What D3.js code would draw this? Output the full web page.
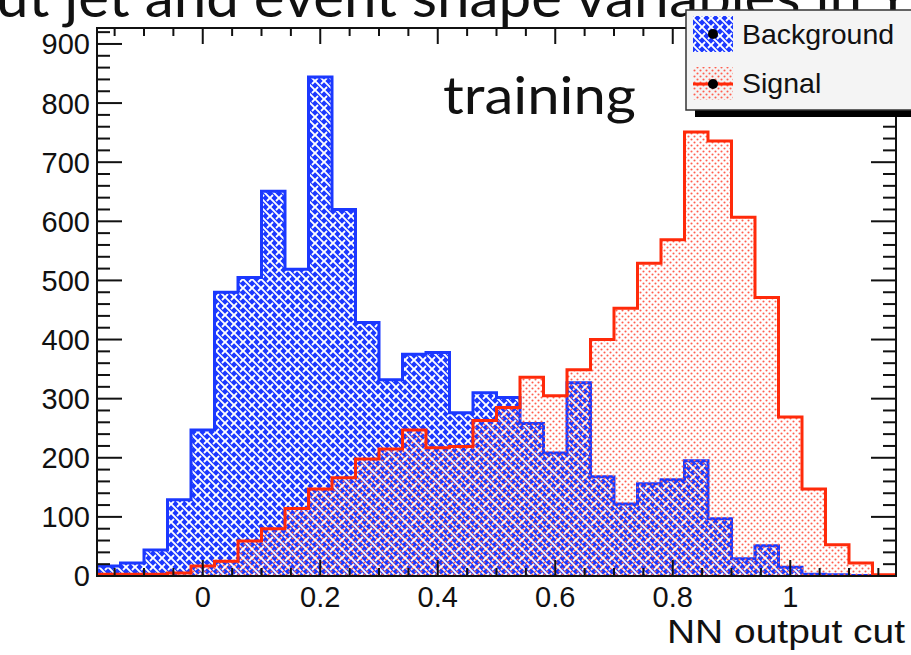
<!DOCTYPE html>
<html>
<head>
<meta charset="utf-8">
<script src="https://cdn.jsdelivr.net/npm/d3@7"></script>
<style>
  html, body { margin: 0; padding: 0; background: #fff; }
  svg { display: block; }
</style>
</head>
<body>
<svg id="chart" width="911" height="655"></svg>
<script>
// Histogram bin edges (NN output), 34 bins of width 0.04
const binEdges = [-0.18, -0.14, -0.10, -0.06, -0.02, 0.02, 0.06, 0.10, 0.14, 0.18,
                  0.22, 0.26, 0.30, 0.34, 0.38, 0.42, 0.46, 0.50, 0.54, 0.58,
                  0.62, 0.66, 0.70, 0.74, 0.78, 0.82, 0.86, 0.90, 0.94, 0.98,
                  1.02, 1.06, 1.10, 1.14, 1.18];
// Entries per bin
const background = [17, 22, 44, 129, 247, 480, 505, 651, 519, 844,
                    620, 429, 332, 375, 378, 276, 310, 302, 258, 208,
                    327, 168, 122, 156, 163, 195, 97, 29, 51, 15,
                    3, 2, 1, 0];
const signal = [3, 3, 3, 5, 17, 25, 59, 80, 114, 147,
                166, 198, 215, 247, 217, 219, 263, 285, 336, 305,
                349, 400, 453, 529, 569, 751, 736, 607, 471, 269,
                147, 53, 22, 2];
const yTicks = [0, 100, 200, 300, 400, 500, 600, 700, 800, 900];
const xTicks = [0, 0.2, 0.4, 0.6, 0.8, 1];
const xTickLabels = ["0", "0.2", "0.4", "0.6", "0.8", "1"];
const legendLabels = ["Background", "Signal"];
const xTitle = "NN output cut";
const annotation = "training";
const headline = "ut jet and event shape variables in Y";

const svg = d3.select("#chart");
const frame = { left: 97, right: 896, top: 28, bottom: 576 };
const x = d3.scaleLinear().domain([-0.18, 1.18]).range([frame.left, frame.right]);
const y = d3.scaleLinear().domain([0, 927]).range([frame.bottom, frame.top]);

const BLUE = "#1b38ff";
const RED = "#ff2a0a";

const defs = svg.append("defs");
// woven hatch for the background sample
const weave = defs.append("pattern").attr("id", "weave")
  .attr("patternUnits", "userSpaceOnUse").attr("width", 9).attr("height", 9);
weave.append("rect").attr("width", 9).attr("height", 9).attr("fill", BLUE);
weave.append("path").attr("d", "M-1,-1 L10,10 M-1,8 L1,10 M8,-1 L10,1")
  .attr("stroke", "#fff").attr("stroke-width", 1.9);
weave.append("path").attr("d", "M-1,10 L3,6 M6,3 L10,-1")
  .attr("stroke", "#fff").attr("stroke-width", 1.9);

// sparse dots for the signal sample
const dots = defs.append("pattern").attr("id", "dots")
  .attr("patternUnits", "userSpaceOnUse").attr("width", 6).attr("height", 6);
dots.append("circle").attr("cx", 1.5).attr("cy", 1.5).attr("r", 1.05).attr("fill", "#ff5f50");
dots.append("circle").attr("cx", 4.5).attr("cy", 4.5).attr("r", 1.05).attr("fill", "#ff5f50");

defs.append("clipPath").attr("id", "frameClip").append("rect")
  .attr("x", frame.left).attr("y", frame.top)
  .attr("width", frame.right - frame.left).attr("height", frame.bottom - frame.top);

// step points: each bin's low edge with its value, plus closing edge
function stepPoints(values) {
  const pts = [[binEdges[0], 0]];
  values.forEach((v, i) => pts.push([binEdges[i], v]));
  pts.push([binEdges[values.length], values[values.length - 1]]);
  pts.push([binEdges[values.length], 0]);
  return pts;
}
const area = d3.area().curve(d3.curveStepAfter)
  .x(d => x(d[0])).y0(y(0)).y1(d => y(d[1]));
const line = d3.line().curve(d3.curveStepAfter)
  .x(d => x(d[0])).y(d => y(d[1]));

const plot = svg.append("g").attr("clip-path", "url(#frameClip)");
const bgPts = stepPoints(background);
const sgPts = stepPoints(signal);
plot.append("path").attr("d", area(bgPts)).attr("fill", "url(#weave)");
plot.append("path").attr("d", line(bgPts)).attr("fill", "none")
  .attr("stroke", BLUE).attr("stroke-width", 3);
plot.append("path").attr("d", area(sgPts)).attr("fill", "url(#dots)");
plot.append("path").attr("d", line(sgPts)).attr("fill", "none")
  .attr("stroke", RED).attr("stroke-width", 3);

// frame
svg.append("rect").attr("x", frame.left).attr("y", frame.top)
  .attr("width", frame.right - frame.left).attr("height", frame.bottom - frame.top)
  .attr("fill", "none").attr("stroke", "#111").attr("stroke-width", 2);

// ticks on all four sides
const yMinor = d3.range(0, 927, 20);
const xMinor = d3.range(-0.15, 1.18, 0.05).map(v => +v.toFixed(2));
const tk = svg.append("g").attr("stroke", "#111").attr("stroke-width", 2);
yMinor.forEach(v => {
  const major = v % 100 === 0;
  const len = major ? 25 : 13;
  tk.append("line").attr("x1", frame.left).attr("x2", frame.left + len)
    .attr("y1", y(v)).attr("y2", y(v));
  tk.append("line").attr("x1", frame.right).attr("x2", frame.right - len)
    .attr("y1", y(v)).attr("y2", y(v));
});
xMinor.forEach(v => {
  const major = Math.abs(Math.round(v * 5) - v * 5) < 1e-6;
  const len = major ? 16 : 8;
  tk.append("line").attr("x1", x(v)).attr("x2", x(v))
    .attr("y1", frame.bottom).attr("y2", frame.bottom - len);
  tk.append("line").attr("x1", x(v)).attr("x2", x(v))
    .attr("y1", frame.top).attr("y2", frame.top + len);
});

const FONT = "'Liberation Sans', Arial, Helvetica, sans-serif";
// y labels
svg.append("g").selectAll("text").data(yTicks).join("text")
  .attr("x", 90).attr("y", d => y(d)).attr("dy", "0.36em")
  .attr("text-anchor", "end").attr("font-family", FONT).attr("font-size", 29)
  .attr("fill", "#111").text(d => d);
// x labels
svg.append("g").selectAll("text").data(xTicks).join("text")
  .attr("x", d => x(d)).attr("y", 607)
  .attr("text-anchor", "middle").attr("font-family", FONT).attr("font-size", 29)
  .attr("fill", "#111").text((d, i) => xTickLabels[i]);
// axis title
svg.append("text").attr("x", 905).attr("y", 643).attr("text-anchor", "end")
  .attr("font-family", FONT).attr("font-size", 33)
  .attr("textLength", 238).attr("lengthAdjust", "spacingAndGlyphs")
  .attr("fill", "#111").text(xTitle);

// annotation
svg.append("text").attr("x", 443).attr("y", 114)
  .attr("font-family", "Lato, 'Open Sans', sans-serif").attr("font-size", 52)
  .attr("textLength", 193).attr("lengthAdjust", "spacingAndGlyphs")
  .attr("fill", "#111").text(annotation);

// headline, mostly above the canvas
svg.append("text").attr("x", -4).attr("y", 17)
  .attr("font-family", "Lato, 'Open Sans', sans-serif").attr("font-size", 56)
  .attr("textLength", 915).attr("lengthAdjust", "spacingAndGlyphs")
  .attr("fill", "#111").text(headline);

// legend
const lg = svg.append("g");
lg.append("rect").attr("x", 695).attr("y", 110).attr("width", 220).attr("height", 7).attr("fill", "#000");
lg.append("rect").attr("x", 686).attr("y", 10).attr("width", 230).attr("height", 100)
  .attr("fill", "#f4f4f4").attr("stroke", "#333").attr("stroke-width", 1.5);
lg.append("rect").attr("x", 693).attr("y", 16).attr("width", 40).attr("height", 36).attr("fill", "url(#weave)");
lg.append("circle").attr("cx", 713).attr("cy", 34).attr("r", 5).attr("fill", "#000");
lg.append("rect").attr("x", 693).attr("y", 67).attr("width", 40).attr("height", 33).attr("fill", "url(#dots)");
lg.append("line").attr("x1", 693).attr("x2", 733).attr("y1", 84).attr("y2", 84)
  .attr("stroke", RED).attr("stroke-width", 3);
lg.append("circle").attr("cx", 713).attr("cy", 84).attr("r", 5).attr("fill", "#000");
lg.selectAll("text.lab").data(legendLabels).join("text").attr("class", "lab")
  .attr("x", 742).attr("y", (d, i) => 44 + i * 49)
  .attr("font-family", FONT).attr("font-size", 28.5).attr("fill", "#111").text(d => d);
</script>
</body>
</html>
